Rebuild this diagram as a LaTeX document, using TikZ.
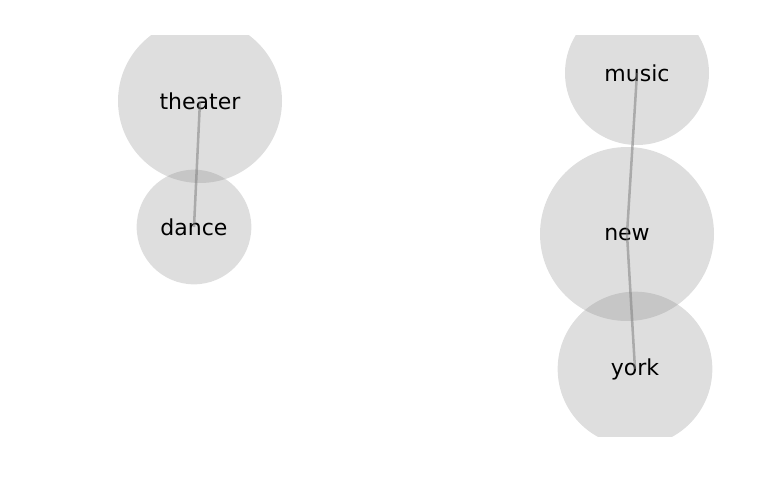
\documentclass[tikz,border=0pt]{standalone}
\usepackage{fontspec}
\setmainfont{DejaVu Sans}
\usetikzlibrary{positioning}
\definecolor{bubblefill}{RGB}{128,128,128}
\definecolor{linkgray}{RGB}{120,120,120}
\tikzset{
    bubble/.style={
        circle,
        fill=bubblefill,
        fill opacity=0.26,
        text opacity=1,
        inner sep=0pt,
        font=\fontsize{16.5}{18}\selectfont
    },
    link/.style={
        draw=linkgray,
        line width=1.9pt,
        opacity=0.5
    }
}
\begin{document}
\begin{tikzpicture}[x=0.75pt, y=-0.75pt]
    \useasboundingbox (0,0) rectangle (768,500);
    \clip (0,35) rectangle (768,436);
    % left cluster
    \node[bubble, minimum size=123pt] (theater) at (200,101) {theater};
    \node[bubble, minimum size=86pt] (dance) at (194,227) {dance};
    % right cluster
    \node[bubble, minimum size=108pt] (music) at (637,73) {music};
    \node[bubble, minimum size=130.5pt] (new) at (627,234) {new};
    \node[bubble, minimum size=116pt] (york) at (635,369) {york};

    \draw[link] (theater.center) -- (dance.center);
    \draw[link] (music.center) -- (new.center);
    \draw[link] (new.center) -- (york.center);
\end{tikzpicture}
\end{document}
